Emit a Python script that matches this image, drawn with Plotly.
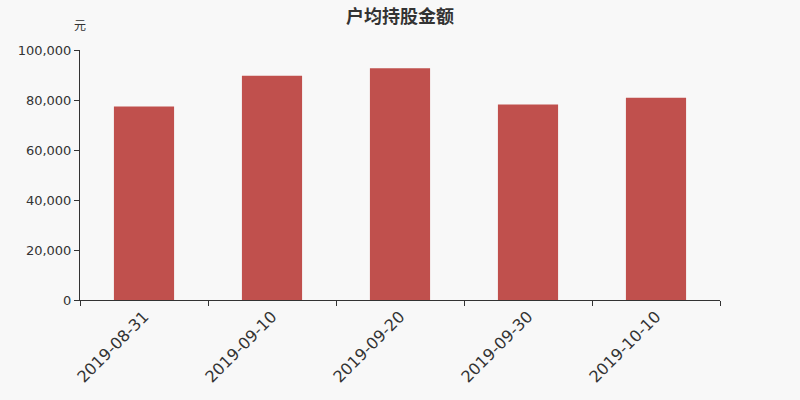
import plotly.graph_objs as go

dates = ['2019-08-31', '2019-09-10', '2019-09-20', '2019-09-30', '2019-10-10']
amounts = [77440, 89660, 92670, 78250, 80930]
y_ticks = [0, 20000, 40000, 60000, 80000, 100000]

trace = go.Bar(
    x=dates,
    y=amounts,
    marker=dict(color='#c0504d', line=dict(width=0)),
    hoverinfo='x+y'
)

layout = go.Layout(
    width=800, height=400,
    paper_bgcolor='#f8f8f8', plot_bgcolor='#f8f8f8',
    showlegend=False,
    bargap=0.53,
    font=dict(family='DejaVu Sans', size=12, color='#333'),
    title=dict(text='<b>户均持股金额</b>', x=0.5, xanchor='center', y=0.975, yanchor='top',
               font=dict(family='Noto Sans CJK SC', size=18, color='#333')),
    xaxis=dict(
        type='category',
        showline=True, linecolor='#333', linewidth=1,
        ticks='outside', tickson='boundaries', ticklen=5, tickcolor='#333',
        tickangle=-45, tickfont=dict(family='DejaVu Sans', size=16, color='#333'),
        showgrid=False, zeroline=False,
    ),
    yaxis=dict(
        range=[0, 100000],
        tickvals=y_ticks, tickformat=',d',
        showline=True, linecolor='#333', linewidth=1,
        ticks='outside', ticklen=5, tickcolor='#333',
        tickfont=dict(family='DejaVu Sans', size=13, color='#333'),
        showgrid=False, zeroline=False,
    ),
    annotations=[dict(text='元', xref='paper', yref='paper', x=0, y=1.06,
                      xanchor='center', yanchor='bottom', showarrow=False,
                      font=dict(family='Noto Sans CJK SC', size=12, color='#333'))],
    margin=dict(l=80, r=80, t=50, b=100)
)

fig = go.Figure(data=[trace], layout=layout)
# drop the page's default body margin so the chart sits at (0, 0)
fig.write_html('out.html', config={'displayModeBar': False},
               post_script="document.body.style.margin='0';document.body.style.background='#f8f8f8';")
